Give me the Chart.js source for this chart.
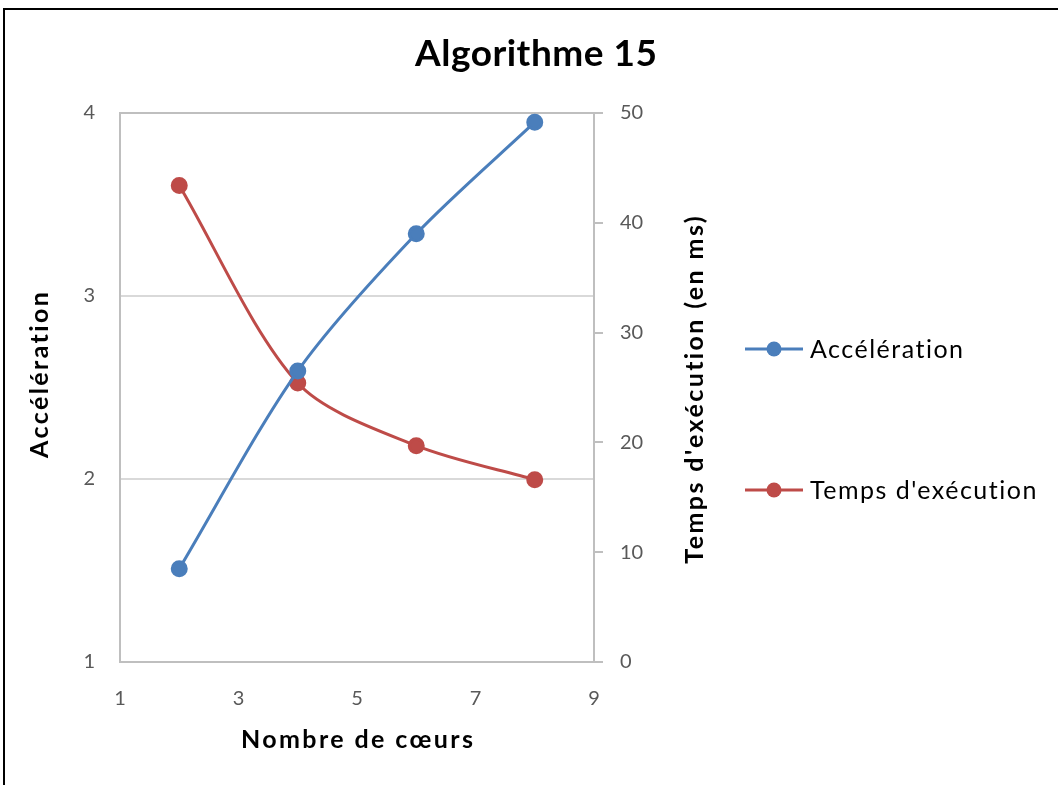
<!DOCTYPE html>
<html lang="fr">
<head>
<meta charset="utf-8">
<title>Algorithme 15</title>
<script src="https://cdn.jsdelivr.net/npm/chart.js@4"></script>
<style>
  html, body { margin: 0; padding: 0; background: #FFFFFF; }
  .wrap { position: relative; width: 1058px; height: 785px; }
</style>
</head>
<body>
<div class="wrap"><canvas id="chartAlgo"></canvas></div>
<script>
// Mesures : nombre de cœurs, accélération, temps d'exécution (ms)
const coeurs = [2, 4, 6, 8];
const acceleration = [1.51, 2.59, 3.34, 3.95];
const tempsExecution = [43.4, 25.4, 19.7, 16.6];

const xTicks = [1, 3, 5, 7, 9];
const accTicks = [1, 2, 3, 4];
const tempsTicks = [0, 10, 20, 30, 40, 50];

const BLUE = '#4A7EBB';
const RED = '#BE4B48';
const AXIS = '#BFBFBF';
const GRID = '#D9D9D9';
const TICK = '#595959';
const FONT = "Lato, 'Open Sans', sans-serif";

function spacedText(ctx, text, x, y, spacing) {
  ctx.letterSpacing = spacing + 'px';
  // trailing spacing shifts centred text, compensate
  ctx.fillText(text, x + spacing / 2, y);
  ctx.letterSpacing = '0px';
}

// Title, axis titles, legend and the outer frame
const decorations = {
  id: 'decorations',
  beforeDraw(chart) {
    const ctx = chart.ctx;
    ctx.save();
    ctx.fillStyle = '#FFFFFF';
    ctx.fillRect(0, 0, chart.width, chart.height);
    ctx.strokeStyle = '#000000';
    ctx.lineWidth = 2;
    ctx.beginPath();
    ctx.moveTo(4, chart.height);
    ctx.lineTo(4, 9);
    ctx.lineTo(chart.width, 9);
    ctx.stroke();
    ctx.restore();
  },
  afterDraw(chart) {
    const ctx = chart.ctx;
    const area = chart.chartArea;
    ctx.save();
    ctx.fillStyle = '#000000';
    ctx.textAlign = 'center';

    // chart title
    ctx.font = "bold 37px " + FONT;
    ctx.textBaseline = 'alphabetic';
    spacedText(ctx, 'Algorithme 15', 536, 66, 0.5);

    ctx.textBaseline = 'middle';
    ctx.font = "bold 25px " + FONT;

    // x axis title
    spacedText(ctx, 'Nombre de cœurs', (area.left + area.right) / 2, 740, 2.4);

    // left axis title
    ctx.save();
    ctx.translate(40, 375);
    ctx.rotate(-Math.PI / 2);
    spacedText(ctx, 'Accélération', 0, 0, 2.4);
    ctx.restore();

    // right axis title, reading bottom to top
    ctx.save();
    ctx.translate(695, 390);
    ctx.rotate(-Math.PI / 2);
    spacedText(ctx, "Temps d'exécution (en ms)", 0, 0, 2.4);
    ctx.restore();

    // legend
    const rows = [349, 490];
    chart.data.datasets.forEach(function(ds, i) {
      const y = rows[i];
      ctx.strokeStyle = ds.borderColor;
      ctx.lineWidth = 3;
      ctx.beginPath();
      ctx.moveTo(745, y);
      ctx.lineTo(803, y);
      ctx.stroke();
      ctx.fillStyle = ds.backgroundColor;
      ctx.beginPath();
      ctx.arc(774, y, 7.5, 0, Math.PI * 2);
      ctx.fill();
      ctx.fillStyle = '#000000';
      ctx.font = "25px " + FONT;
      ctx.textAlign = 'left';
      ctx.letterSpacing = '1.5px';
      ctx.fillText(ds.label, 810, y + 1);
      ctx.letterSpacing = '0px';
    });
    ctx.restore();
  }
};

const ctx = document.getElementById('chartAlgo');
new Chart(ctx, {
  type: 'line',
  data: {
    datasets: [{
      label: 'Accélération',
      data: coeurs.map((c, i) => ({ x: c, y: acceleration[i] })),
      yAxisID: 'yAcc',
      borderColor: BLUE,
      backgroundColor: BLUE,
      borderWidth: 3,
      pointRadius: 7,
      pointHoverRadius: 7,
      tension: 0.3
    }, {
      label: "Temps d'exécution",
      data: coeurs.map((c, i) => ({ x: c, y: tempsExecution[i] })),
      yAxisID: 'yTemps',
      borderColor: RED,
      backgroundColor: RED,
      borderWidth: 3,
      pointRadius: 7,
      pointHoverRadius: 7,
      tension: 0.3
    }]
  },
  plugins: [decorations],
  options: {
    responsive: true,
    maintainAspectRatio: false,
    animation: false,
    layout: { padding: { top: 113, left: 22, right: 346, bottom: 20 } },
    plugins: {
      legend: { display: false },
      title: { display: false },
      tooltip: { enabled: false }
    },
    scales: {
      x: {
        type: 'linear',
        min: xTicks[0],
        max: xTicks[xTicks.length - 1],
        afterBuildTicks: function(scale) { scale.ticks = xTicks.map(v => ({ value: v })); },
        afterFit: function(scale) { scale.height = 103; },
        grid: { display: false, drawTicks: false },
        border: { display: true, color: AXIS, width: 2 },
        ticks: { color: TICK, padding: 25, font: { family: FONT, size: 20 } }
      },
      yAcc: {
        type: 'linear',
        position: 'left',
        min: accTicks[0],
        max: accTicks[accTicks.length - 1],
        afterBuildTicks: function(scale) { scale.ticks = accTicks.map(v => ({ value: v })); },
        afterFit: function(scale) { scale.width = 98; },
        grid: {
          drawTicks: false,
          lineWidth: 2,
          color: function(c) { return c.tick && c.tick.value === accTicks[accTicks.length - 1] ? AXIS : GRID; }
        },
        border: { display: true, color: AXIS, width: 2 },
        ticks: { color: TICK, padding: 25, font: { family: FONT, size: 20 } }
      },
      yTemps: {
        type: 'linear',
        position: 'right',
        min: tempsTicks[0],
        max: tempsTicks[tempsTicks.length - 1],
        afterBuildTicks: function(scale) { scale.ticks = tempsTicks.map(v => ({ value: v })); },
        afterFit: function(scale) { scale.width = 118; },
        grid: { drawOnChartArea: false, tickLength: 9, color: AXIS, lineWidth: 2 },
        border: { display: true, color: AXIS, width: 2 },
        ticks: { color: TICK, padding: 17, font: { family: FONT, size: 20 } }
      }
    }
  }
});
</script>
</body>
</html>
